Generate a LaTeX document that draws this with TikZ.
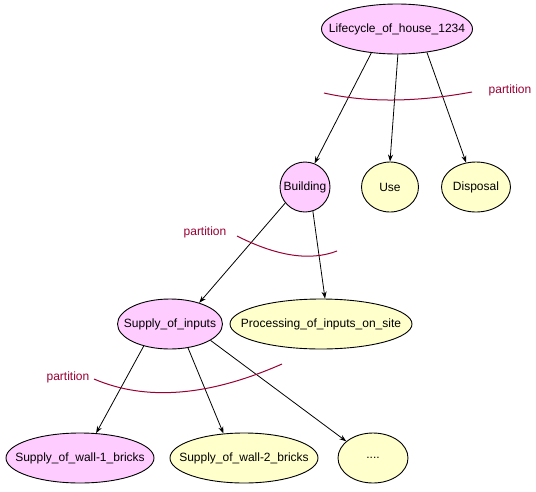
\documentclass[tikz,border=0pt]{standalone}
\usepackage{fontspec}
\setmainfont{Liberation Sans}
\usetikzlibrary{shapes.geometric,arrows.meta}
\definecolor{pinkfill}{HTML}{FFCCFF}
\definecolor{yellowfill}{HTML}{FFFFCC}
\definecolor{partred}{HTML}{990033}
\tikzset{
  ell/.style={ellipse, draw=black, line width=0.9pt, inner sep=0pt, minimum height=50pt,
    label={[font=\fontsize{12}{14}\selectfont, inner sep=0pt]center:#1}},
  pinknode/.style={ell=#1, fill=pinkfill},
  yellownode/.style={ell=#1, fill=yellowfill},
  edge/.style={line width=0.8pt, -{Stealth[length=7pt,width=5pt]}},
  partarc/.style={draw=partred, line width=1pt},
  partlabel/.style={text=partred, font=\fontsize{12}{14}\selectfont, inner sep=0pt}
}
\begin{document}
\begin{tikzpicture}[x=1pt,y=-1pt]
\useasboundingbox (0,0) rectangle (536,491);
% nodes
\node[pinknode={Lifecycle\_of\_house\_1234}, minimum width=151pt] (lc) at (397,29) {};
\node[pinknode={Building}, minimum width=50pt] (bld) at (305,187) {};
\node[yellownode={Use}, minimum width=57pt] (use) at (390,187) {};
\node[yellownode={Disposal}, minimum width=69pt] (disp) at (476,187) {};
\node[pinknode={Supply\_of\_inputs}, minimum width=105pt] (sup) at (170,324) {};
\node[yellownode={Processing\_of\_inputs\_on\_site}, minimum width=182pt] (proc) at (321,324) {};
\node[pinknode={Supply\_of\_wall-1\_bricks}, minimum width=148pt] (w1) at (80,458) {};
\node[yellownode={Supply\_of\_wall-2\_bricks}, minimum width=148pt] (w2) at (244,458) {};
\node[yellownode={....}, minimum width=70pt] (dots) at (373,458) {};
% edges
\draw[edge] (lc.223) -- (bld.68);
\draw[edge] (lc.272) -- (use.90);
\draw[edge] (lc.322) -- (disp.112);
\draw[edge] (bld.219) -- (sup.36);
\draw[edge] (bld.288) -- (proc.81);
\draw[edge] (sup.220) -- (w1.57);
\draw[edge] (sup.307) -- (w2.130);
\draw[edge] (sup.338) -- (dots.148);
% partition arcs
\coordinate (a1s) at (324,93); \coordinate (a1e) at (472,92);
\draw[partarc] (a1s) .. controls (366.7,102.7) and (416,102.3) .. (a1e);
\node[partlabel] (p1) at (510,90) {partition};
\coordinate (a2s) at (237,236); \coordinate (a2e) at (337,251);
\draw[partarc] (a2s) .. controls (277,256.3) and (310.3,261.3) .. (a2e);
\node[partlabel] (p2) at (205,232) {partition};
\coordinate (a3s) at (94,379); \coordinate (a3e) at (282,364);
\draw[partarc] (a3s) .. controls (146,401.3) and (208.7,396.3) .. (a3e);
\node[partlabel] (p3) at (68,377) {partition};
\end{tikzpicture}
\end{document}
